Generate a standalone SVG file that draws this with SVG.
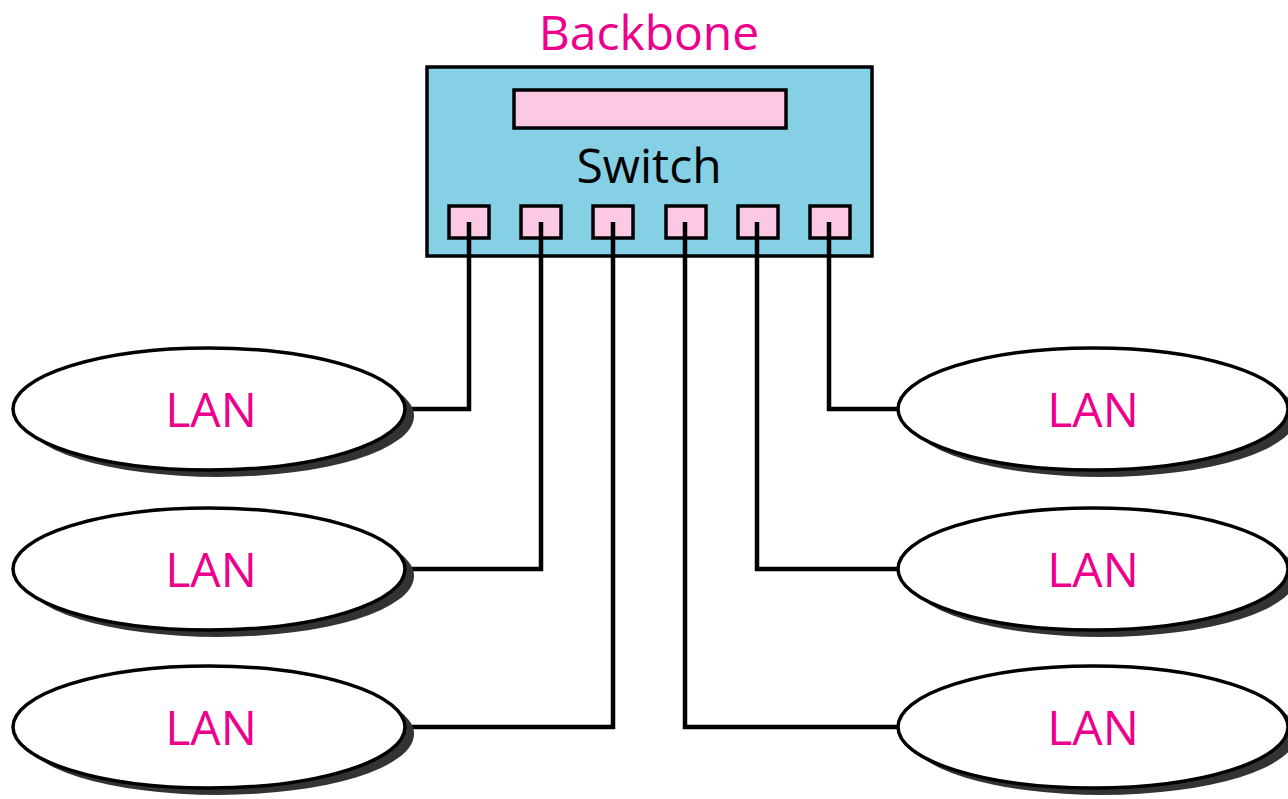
<svg xmlns="http://www.w3.org/2000/svg" width="1288" height="799" viewBox="0 0 1288 799">
<style>
.lbl{font-family:"Open Sans","Liberation Sans",sans-serif;font-size:48px;text-anchor:middle}
.pink{fill:#EC008C}
.port{fill:#FBC9E4;stroke:#000;stroke-width:3.5}
.lan{fill:#fff;stroke:#000;stroke-width:3.5}
.shadow{fill:#333}
.wire{fill:none;stroke:#000;stroke-width:4.5}
</style>
<rect width="1288" height="799" fill="#fff"/>
<g id="backbone-label"><text class="lbl pink" x="649" y="50">Backbone</text></g>
<g id="switch">
<rect x="427" y="67" width="445" height="189" fill="#85D0E4" stroke="#000" stroke-width="3.5"/>
<rect x="514" y="90" width="272" height="38" class="port"/>
<text class="lbl" x="649" y="183" fill="#000">Switch</text>
<rect class="port" x="449" y="206" width="40" height="32"/>
<rect class="port" x="521" y="206" width="40" height="32"/>
<rect class="port" x="593" y="206" width="40" height="32"/>
<rect class="port" x="666" y="206" width="40" height="32"/>
<rect class="port" x="738" y="206" width="40" height="32"/>
<rect class="port" x="810" y="206" width="40" height="32"/>
</g>
<g id="connectors">
<path class="wire" d="M469 222 V409 H405"/>
<path class="wire" d="M541 222 V569 H405"/>
<path class="wire" d="M613 222 V727 H405"/>
<path class="wire" d="M685 222 V727 H898"/>
<path class="wire" d="M757 222 V569 H898"/>
<path class="wire" d="M829 222 V409 H898"/>
</g>
<g id="lan-l1"><ellipse class="shadow" cx="218" cy="416" rx="196" ry="61"/><ellipse class="lan" cx="209" cy="409" rx="196" ry="61"/><text class="lbl pink" x="211" y="427">LAN</text></g>
<g id="lan-l2"><ellipse class="shadow" cx="218" cy="576" rx="196" ry="61"/><ellipse class="lan" cx="209" cy="569" rx="196" ry="61"/><text class="lbl pink" x="211" y="587">LAN</text></g>
<g id="lan-l3"><ellipse class="shadow" cx="218" cy="734" rx="196" ry="61"/><ellipse class="lan" cx="209" cy="727" rx="196" ry="61"/><text class="lbl pink" x="211" y="745">LAN</text></g>
<g id="lan-r1"><ellipse class="shadow" cx="1102" cy="416" rx="195" ry="61"/><ellipse class="lan" cx="1093" cy="409" rx="195" ry="61"/><text class="lbl pink" x="1093" y="427">LAN</text></g>
<g id="lan-r2"><ellipse class="shadow" cx="1102" cy="576" rx="195" ry="61"/><ellipse class="lan" cx="1093" cy="569" rx="195" ry="61"/><text class="lbl pink" x="1093" y="587">LAN</text></g>
<g id="lan-r3"><ellipse class="shadow" cx="1102" cy="734" rx="195" ry="61"/><ellipse class="lan" cx="1093" cy="727" rx="195" ry="61"/><text class="lbl pink" x="1093" y="745">LAN</text></g>
</svg>
